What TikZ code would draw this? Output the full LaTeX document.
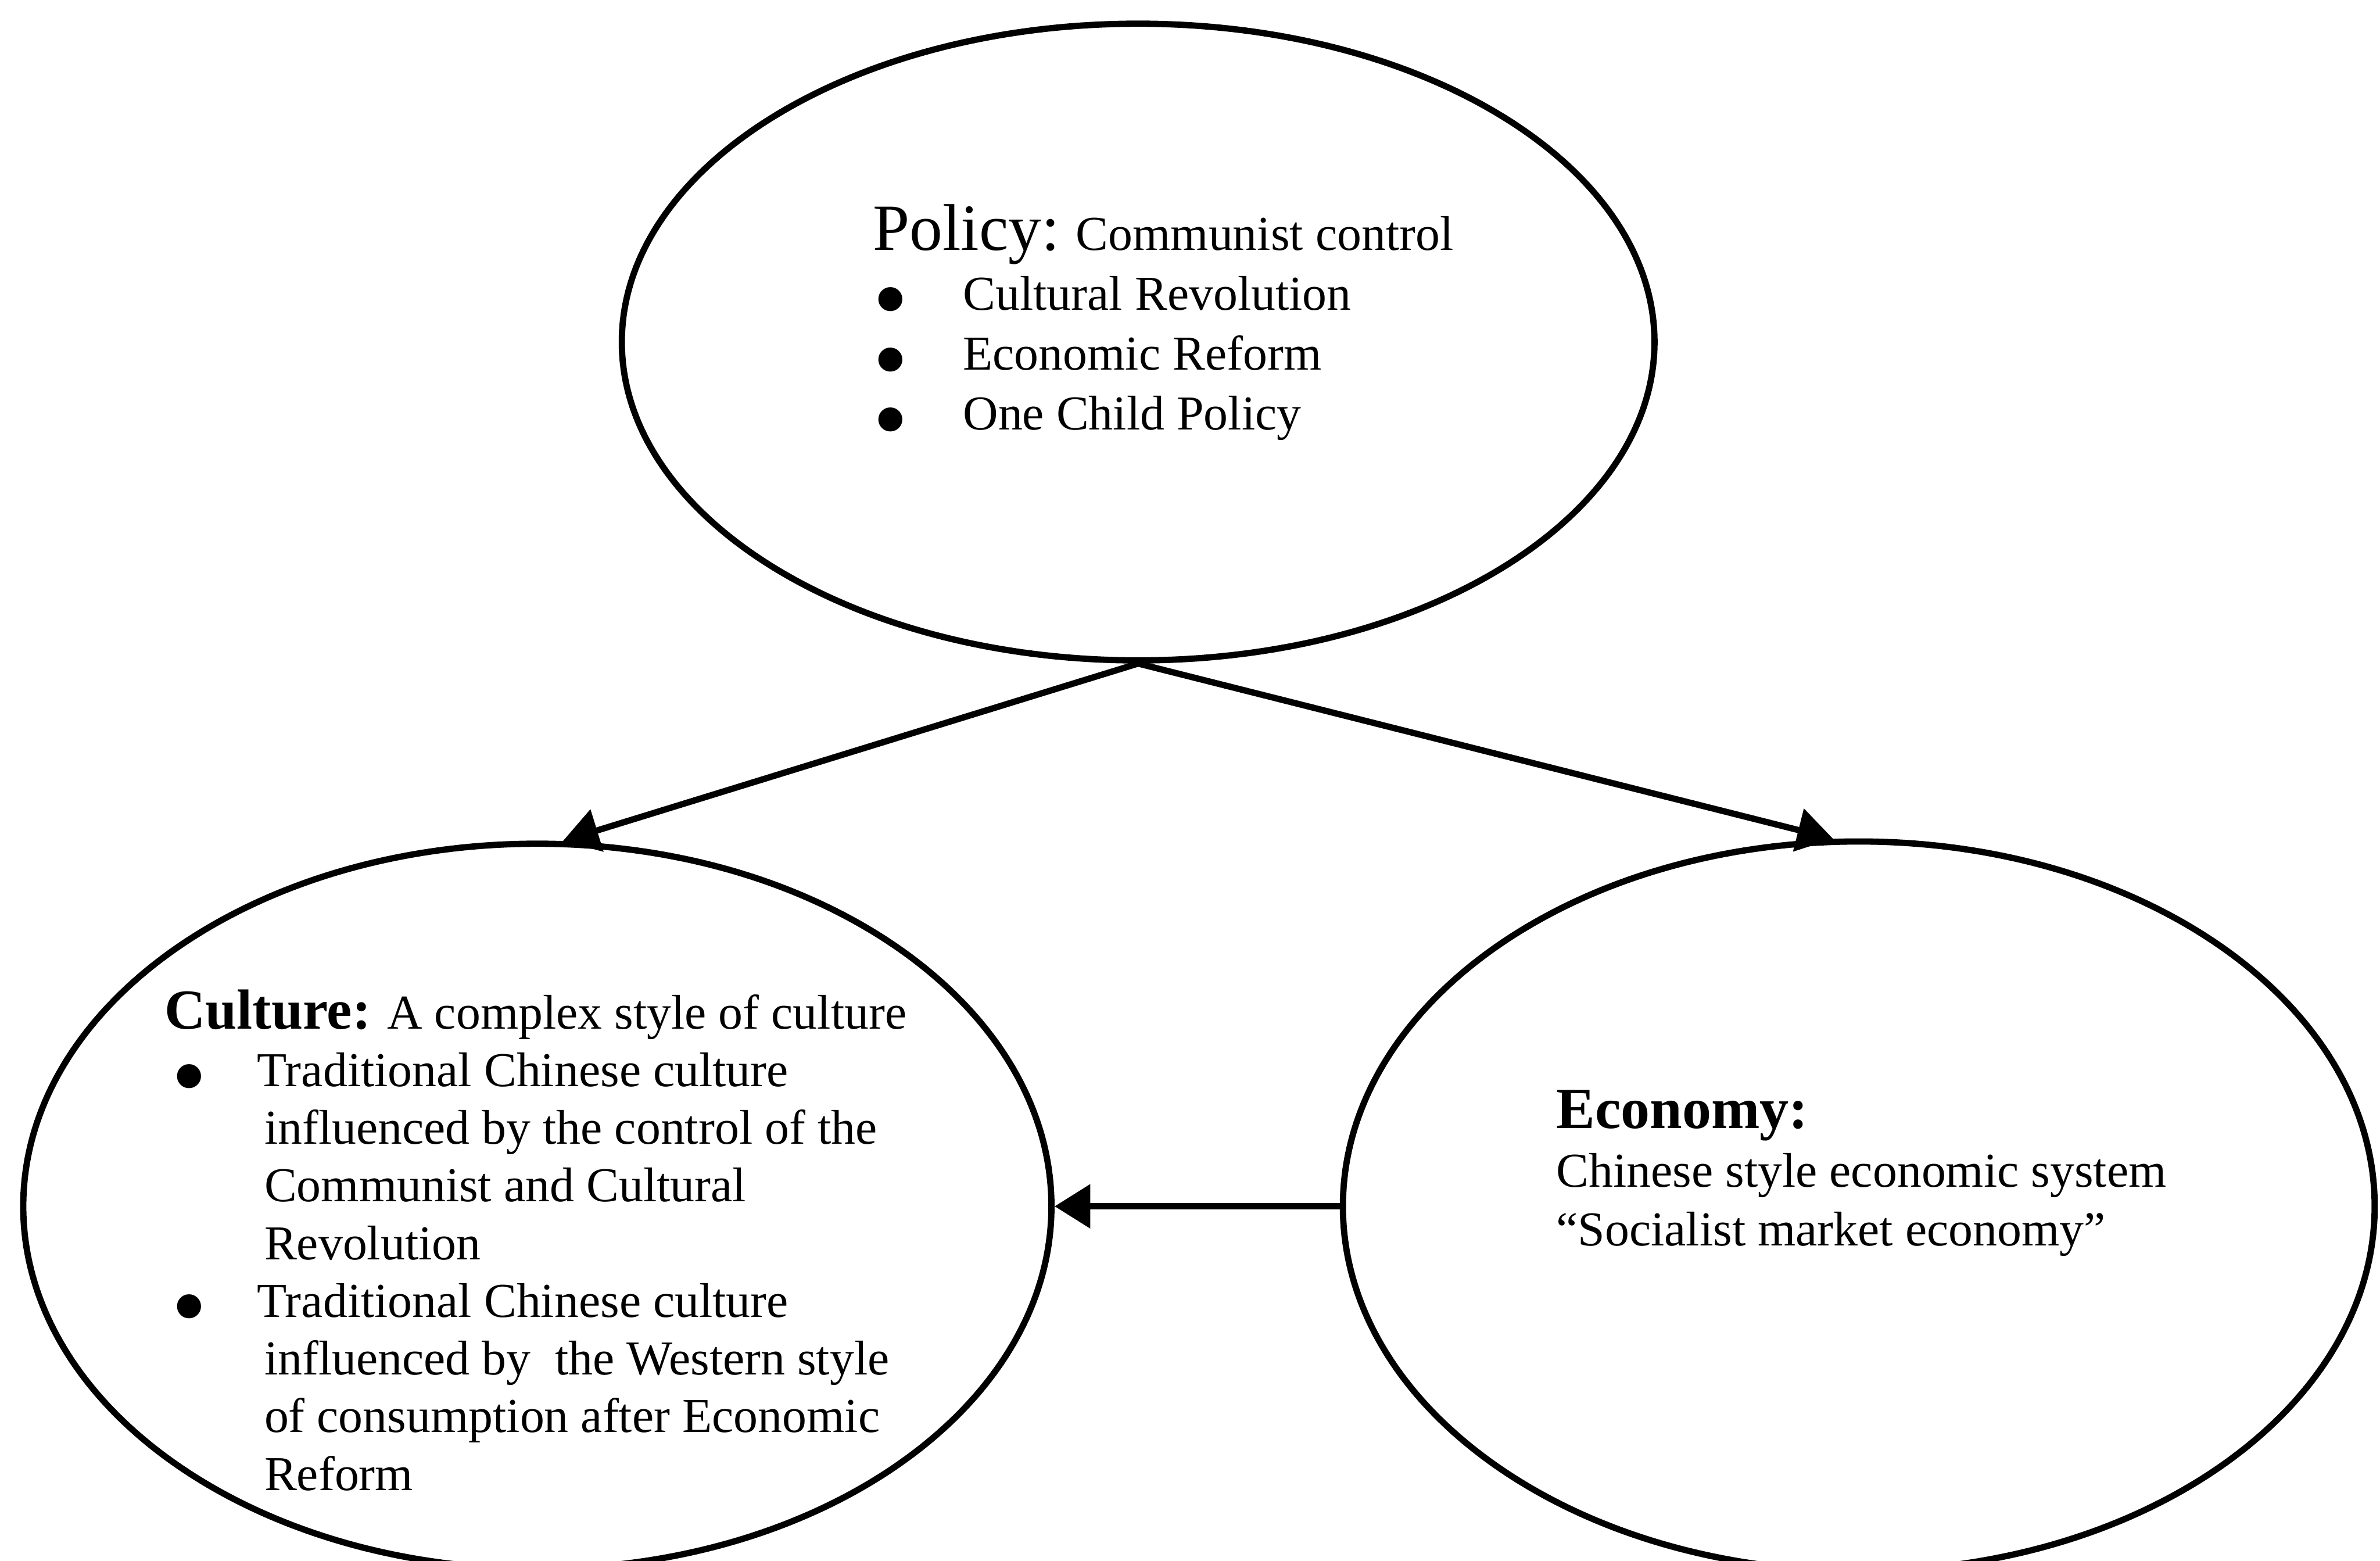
\documentclass[tikz,border=0pt]{standalone}
\usepackage{fontspec}
\setmainfont{Liberation Serif}
\usetikzlibrary{shapes.geometric, arrows.meta}

% bullet with its own indent: #1 = item indent, #2 = bullet offset
\newcommand{\bulitem}[2]{\makebox[#1][l]{\hspace*{#2}\raisebox{-7.3pt}[0pt][0pt]{\fontsize{32}{32}\selectfont\textbullet}}}

\begin{document}
\begin{tikzpicture}[
    bubble/.style={ellipse, draw, line width=2pt, inner sep=0pt},
    txt/.style={inner sep=0pt, anchor=base west, font=\fontsize{15.5}{19.1}\selectfont},
    arr/.style={-{Triangle[length=4mm, width=4.8mm]}, line width=2pt}
]
    \useasboundingbox (0,0) rectangle (26.62,17.45);

    % Draw nodes
    \node[bubble, minimum width=11.55cm, minimum height=7.12cm] (policy) at (12.73,13.625) {};
    \node[bubble, minimum width=11.5cm, minimum height=8.11cm] (culture) at (6.01,3.96) {};
    \node[bubble, minimum width=11.54cm, minimum height=8.16cm] (economy) at (20.79,3.96) {};

    % Texts
    \node[txt] (policytext) at (9.755,14.655) {\begin{tabular}[t]{@{}l@{}}
        {\fontsize{21}{19.1}\selectfont Policy:} Communist control\\
        \bulitem{1.01cm}{0cm}Cultural Revolution\\
        \bulitem{1.01cm}{0cm}Economic Reform\\
        \bulitem{1.01cm}{0cm}One Child Policy
    \end{tabular}};
    \node[txt, font=\fontsize{15.5}{18.35}\selectfont] (culturetext) at (1.835,5.945) {\begin{tabular}[t]{@{}l@{}}
        {\bfseries\fontsize{18}{18.35}\selectfont Culture:} A complex style of culture\\
        \bulitem{1.035cm}{0.08cm}Traditional Chinese culture\\
        \hspace*{1.115cm}influenced by the control of the\\
        \hspace*{1.115cm}Communist and Cultural\\
        \hspace*{1.115cm}Revolution\\
        \bulitem{1.035cm}{0.08cm}Traditional Chinese culture\\
        \hspace*{1.115cm}influenced by\ \ the Western style\\
        \hspace*{1.115cm}of consumption after Economic\\
        \hspace*{1.115cm}Reform
    \end{tabular}};
    \node[txt, font=\fontsize{15.5}{18.6}\selectfont] (economytext) at (17.4,4.83) {\begin{tabular}[t]{@{}l@{}}
        {\bfseries\fontsize{18.5}{18.6}\selectfont Economy:}\\
        Chinese style economic system\\
        “Socialist market economy”
    \end{tabular}};

    % Draw connections
    \draw[arr] (policy.south) -- (culture.86);
    \draw[arr] (policy.south) -- (economy.94);
    \draw[arr] (economy.west) -- (culture.east);
\end{tikzpicture}
\end{document}
